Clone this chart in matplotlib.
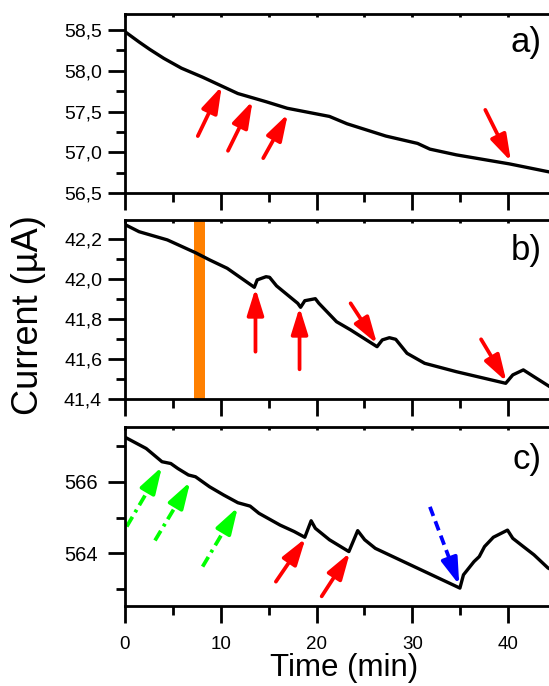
import matplotlib
matplotlib.use("Agg")
import matplotlib.pyplot as plt
from matplotlib.ticker import MultipleLocator, FixedLocator, FixedFormatter

plt.rcParams['font.family'] = ['Liberation Sans', 'DejaVu Sans']

# --- panel a: plain decay
t_a = [0, 1.47, 2.58, 4.05, 5.89, 8.1, 9.94, 11.78, 13.25, 14.72, 16.93,
       21.34, 23.18, 27.23, 30.54, 31.83, 34.59, 40.11, 44.34, 46.0]
i_a = [58.476, 58.35, 58.26, 58.15, 58.03, 57.92, 57.82, 57.72, 57.67, 57.62,
       57.54, 57.44, 57.35, 57.20, 57.11, 57.04, 56.97, 56.86, 56.76, 56.73]
# (tail_t, tail_i, head_t, head_i)
arrows_a = [(7.60, 57.20, 10.10, 57.81), (10.75, 57.02, 13.32, 57.63),
            (14.43, 56.93, 17.00, 57.47), (37.61, 57.52, 40.29, 56.89)]
yt_a = [56.5, 57.0, 57.5, 58.0, 58.5]
yl_a = ['56,5', '57,0', '57,5', '58,0', '58,5']

# --- panel b: decay with bumps
t_b = [0.07, 1.47, 4.42, 7.36, 8.83, 10.67, 13.5, 13.8, 14.72, 15.09, 15.82,
       18.03, 18.33, 18.77, 19.87, 20.24, 22.08, 23.55, 26.31, 26.86, 27.6,
       28.26, 29.44, 31.28, 34.59, 39.74, 40.48, 41.58, 42.69, 44.34, 46.0]
i_b = [42.272, 42.238, 42.197, 42.133, 42.097, 42.055, 41.96, 41.997, 42.013,
       42.01, 41.967, 41.88, 41.86, 41.893, 41.903, 41.88, 41.788, 41.747,
       41.663, 41.697, 41.708, 41.70, 41.63, 41.58, 41.538, 41.48, 41.522,
       41.547, 41.513, 41.463, 41.44]
arrows_b = [(13.62, 41.638, 13.62, 41.955), (18.22, 41.55, 18.22, 41.86),
            (23.55, 41.88, 26.31, 41.677), (37.17, 41.70, 39.82, 41.488)]
band_b = (7.21, 8.39)
yt_b = [41.4, 41.6, 41.8, 42.0, 42.2]
yl_b = ['41,4', '41,6', '41,8', '42,0', '42,2']

# --- panel c
t_c = [0.07, 2.21, 3.86, 4.78, 5.52, 6.62, 7.36, 8.83, 10.3, 11.78, 13.06,
       13.98, 16.19, 17.66, 18.77, 19.43, 19.87, 21.34, 23.37, 24.29, 25.02,
       26.13, 29.07, 34.96, 35.33, 36.43, 36.98, 37.53, 38.45, 39.93, 40.48,
       41.58, 42.69, 44.16, 46.0]
i_c = [567.235, 566.93, 566.56, 566.51, 566.37, 566.19, 566.14, 565.86,
       565.63, 565.415, 565.32, 565.12, 564.79, 564.61, 564.45, 564.91, 564.70,
       564.38, 564.05, 564.635, 564.38, 564.14, 563.77, 563.03, 563.40, 563.77,
       563.91, 564.19, 564.45, 564.65, 564.42, 564.19, 563.96, 563.59, 563.35]
arrows_c_green = [(0.18, 564.75, 3.86, 566.42), (3.13, 564.36, 6.81, 566.00),
                  (8.10, 563.63, 11.78, 565.29)]
arrows_c_red = [(15.75, 563.21, 18.84, 564.42), (20.53, 562.80, 23.48, 564.02)]
arrows_c_blue = [(31.83, 565.30, 34.89, 563.12)]
yt_c = [564, 566]
yl_c = ['564', '566']

x_ticks = [0, 10, 20, 30, 40]
x_labels = ['0', '10', '20', '30', '40']

W, H = 549, 686
fig = plt.figure(figsize=(W / 100, H / 100), dpi=100)


def px_axes(top, bottom, left=125, right=565):
    return fig.add_axes([left / W, 1 - bottom / H, (right - left) / W, (bottom - top) / H])


ax_a = px_axes(13.7, 193.3)
ax_b = px_axes(220, 399.3)
ax_c = px_axes(427, 606)

HEAD = dict(arrowstyle='-|>,head_length=0.8,head_width=0.25', mutation_scale=20,
            lw=2.7, shrinkA=0, shrinkB=0)


def arrow(ax, a, color, ls=None):
    x0, y0, x1, y1 = a
    if ls is None:
        ax.annotate('', xy=(x1, y1), xytext=(x0, y0),
                    arrowprops=dict(color=color, **HEAD))
        return
    # broken shaft, then a solid head over the last part
    f = 0.72
    xm, ym = x0 + f * (x1 - x0), y0 + f * (y1 - y0)
    ax.plot([x0, xm], [y0, ym], color=color, lw=2.7, linestyle=ls,
            solid_capstyle='butt', dash_capstyle='butt')
    ax.annotate('', xy=(x1, y1), xytext=(xm, ym),
                arrowprops=dict(color=color, **HEAD))


def style(ax, ylim, yt, yl, minor, fs, pad):
    ax.set_xlim(0, 45.93)
    ax.set_ylim(*ylim)
    ax.xaxis.set_major_locator(FixedLocator(x_ticks))
    ax.xaxis.set_minor_locator(MultipleLocator(5))
    ax.yaxis.set_major_locator(FixedLocator(yt))
    ax.yaxis.set_major_formatter(FixedFormatter(yl))
    ax.yaxis.set_minor_locator(MultipleLocator(minor))
    ax.tick_params(which='major', direction='out', length=12, width=2,
                   labelsize=fs)
    ax.tick_params(axis='y', pad=pad)
    ax.tick_params(which='minor', direction='out', length=6.5, width=2)
    for s in ax.spines.values():
        s.set_linewidth(2)


for ax in (ax_a, ax_b, ax_c):
    ax.set_facecolor('none')

ax_a.plot(t_a, i_a, color='black', lw=2.4)
for a in arrows_a:
    arrow(ax_a, a, '#ff0000')
style(ax_a, (56.5, 58.696), yt_a, yl_a, 0.25, 14, 4.5)
ax_a.tick_params(axis='x', labelbottom=False)

ax_b.axvspan(*band_b, color='#ff8000', lw=0)
ax_b.plot(t_b, i_b, color='black', lw=2.4)
for a in arrows_b:
    arrow(ax_b, a, '#ff0000')
style(ax_b, (41.4, 42.2965), yt_b, yl_b, 0.1, 14, 4.5)
ax_b.tick_params(axis='x', labelbottom=False)

ax_c.plot(t_c, i_c, color='black', lw=2.4)
for a in arrows_c_green:
    arrow(ax_c, a, '#00ff00', ls=(0, (3, 1.4, 0.8, 1.4)))
for a in arrows_c_red:
    arrow(ax_c, a, '#ff0000')
for a in arrows_c_blue:
    arrow(ax_c, a, '#0000ff', ls=(0, (2.6, 1.5)))
style(ax_c, (562.53, 567.53), yt_c, yl_c, 1, 14.5, 7.5)
ax_c.xaxis.set_major_formatter(FixedFormatter(x_labels))
ax_c.tick_params(axis='x', labelsize=13.5, pad=9.5)

# short inward stubs along the top spine
for ax in (ax_a, ax_b, ax_c):
    ax.xaxis.set_tick_params(which='both', top=True)
    for tk in ax.xaxis.get_major_ticks() + ax.xaxis.get_minor_ticks():
        tk.tick2line.set_marker(3)
        tk.tick2line.set_markersize(2.5)

xt = (542 - 125) / (565 - 125)
for ax, lab, y in ((ax_a, 'a)', 0.84), (ax_b, 'b)', 0.83), (ax_c, 'c)', 0.82)):
    ax.text(xt, y, lab, transform=ax.transAxes, ha='right', va='center',
            fontsize=25)

fig.text(29 / W, 1 - 315 / H, 'Current (\u00b5A)', rotation=90, ha='center',
         va='center', fontsize=26)
fig.text(344 / W, 1 - 668 / H, 'Time (min)', ha='center', va='center',
         fontsize=22.5)

fig.savefig('out.png', dpi=100)
